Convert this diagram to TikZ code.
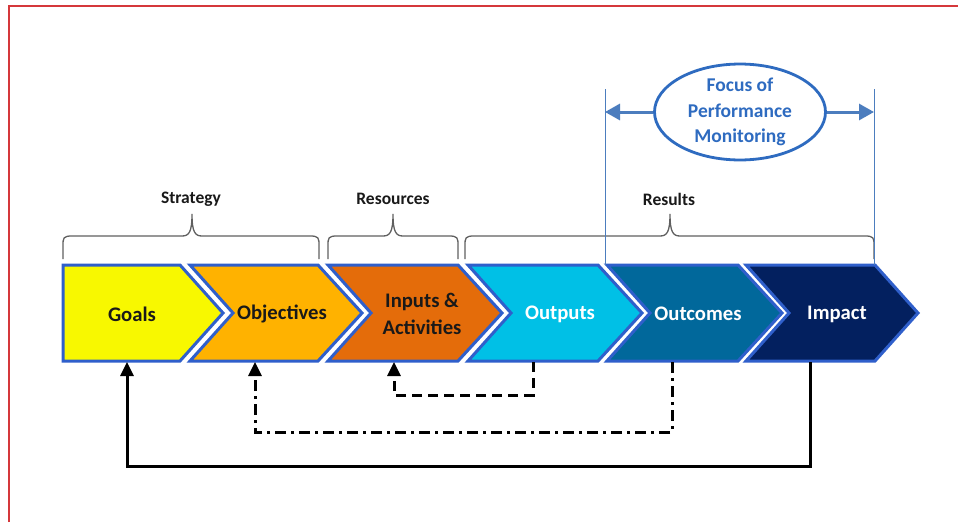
\documentclass[tikz,border=0pt]{standalone}
\usepackage{fontspec}
\setmainfont{Carlito}
\usetikzlibrary{arrows.meta,shapes.geometric}
\definecolor{cgoal}{HTML}{F8F800}
\definecolor{cobj}{HTML}{FFB200}
\definecolor{cinp}{HTML}{E46C0A}
\definecolor{cout}{HTML}{00C0E6}
\definecolor{coutc}{HTML}{01689B}
\definecolor{cimp}{HTML}{03205F}
\definecolor{cedge}{HTML}{2F5FCB}
\definecolor{cfocus}{HTML}{2E6BC0}
\definecolor{cfarrow}{HTML}{4C7DBE}
\definecolor{cframe}{HTML}{D5383B}
\definecolor{cbrace}{HTML}{606060}
\tikzset{
  chev/.style={draw=cedge, line width=3pt, line join=miter},
  bigtxt/.style={font=\fontsize{20.7}{27}\selectfont\bfseries, align=center},
  bracetxt/.style={font=\fontsize{17.5}{20}\selectfont\bfseries, text=black!90},
  bracestyle/.style={draw=cbrace, line width=1.3pt},
  fb/.style={line width=3pt, black, -{Triangle[length=14pt,width=13pt]}},
  fbdash/.style={fb, dash pattern=on 10pt off 6pt},
  fbdot/.style={fb, dash pattern=on 11pt off 5pt on 3pt off 5pt},
  farrow/.style={line width=3pt, cfarrow, -{Triangle[length=15pt,width=16pt]}},
  vline/.style={draw=cfarrow, line width=1pt}
}
\newcommand{\mybrace}[3]{%
 \draw[bracestyle] (#1,259) -- (#1,246) .. controls (#1,238) and (#1,236) .. ({#1+9},236) -- ({#2-10},236) .. controls ({#2-3},236) and (#2,232) .. (#2,214) .. controls (#2,232) and ({#2+3},236) .. ({#2+10},236) -- ({#3-9},236) .. controls (#3,236) and (#3,238) .. (#3,246) -- (#3,259);}
\begin{document}
\begin{tikzpicture}[x=1pt,y=-1pt]
\useasboundingbox (0,0) rectangle (958,522);
\fill[white] (0,0) rectangle (958,522);
% frame
\draw[cframe, line width=2pt] (9,522) -- (9,6) -- (958,6);

% chevrons
\draw[chev, fill=cgoal] (63,265) -- (180,265) -- (223,313) -- (180,361) -- (63,361) -- cycle;
\draw[chev, fill=cobj] (190,265) -- (318,265) -- (362,313) -- (318,361) -- (190,361) -- (233,313) -- cycle;
\draw[chev, fill=cinp] (328,265) -- (458,265) -- (502,313) -- (458,361) -- (328,361) -- (371,313) -- cycle;
\draw[chev, fill=cout] (468,265) -- (598,265) -- (642,313) -- (598,361) -- (468,361) -- (511,313) -- cycle;
\draw[chev, fill=coutc] (607,265) -- (738,265) -- (782,313) -- (738,361) -- (607,361) -- (650,313) -- cycle;
\draw[chev, fill=cimp] (746,265) -- (875,265) -- (918,313) -- (875,361) -- (746,361) -- (789,313) -- cycle;

\node[bigtxt, text=black!90] (goals) at (132,314) {Goals};
\node[bigtxt, text=black!90] (obj) at (282,314) {Objectives};
\node[bigtxt, text=black!90] (inp) at (422,314) {Inputs \&\\Activities};
\node[bigtxt, text=white] (outp) at (560,314) {Outputs};
\node[bigtxt, text=white] (outc) at (698,314) {Outcomes};
\node[bigtxt, text=white] (imp) at (837,314) {Impact};

% braces
\mybrace{63}{192}{319}
\mybrace{328}{393}{458}
\mybrace{465}{670}{874}
\node[bracetxt] (strat) at (191,199) {Strategy};
\node[bracetxt] (res) at (393,199) {Resources};
\node[bracetxt] (resl) at (669,199) {Results};

% focus
\draw[vline] (605,89) -- (605,265);
\draw[vline] (874,89) -- (874,265);
\node[ellipse, draw=cfocus, line width=2.8pt, minimum width=171pt, minimum height=93pt, inner sep=0pt,
      text=cfocus, font=\fontsize{19.5}{25.5}\selectfont\bfseries, align=center] (focus) at (740,112)
      {Focus of\\Performance\\Monitoring};
\coordinate (fl) at (605,112);
\coordinate (fr) at (874,112);
\draw[farrow] (focus.west) -- (fl);
\draw[farrow] (focus.east) -- (fr);

% feedback
\coordinate (goalsB) at (127,362);
\coordinate (objB) at (255,362);
\coordinate (inpB) at (394,362);
\coordinate (outpB) at (533,362);
\coordinate (outcB) at (672,362);
\coordinate (impB) at (810,362);
\draw[fb] (impB) -- (810,466) -- (127,466) -- (goalsB);
\draw[fbdash] (outpB) -- (533,395) -- (394,395) -- (inpB);
\draw[fbdot] (outcB) -- (672,432) -- (255,432) -- (objB);
\end{tikzpicture}
\end{document}
